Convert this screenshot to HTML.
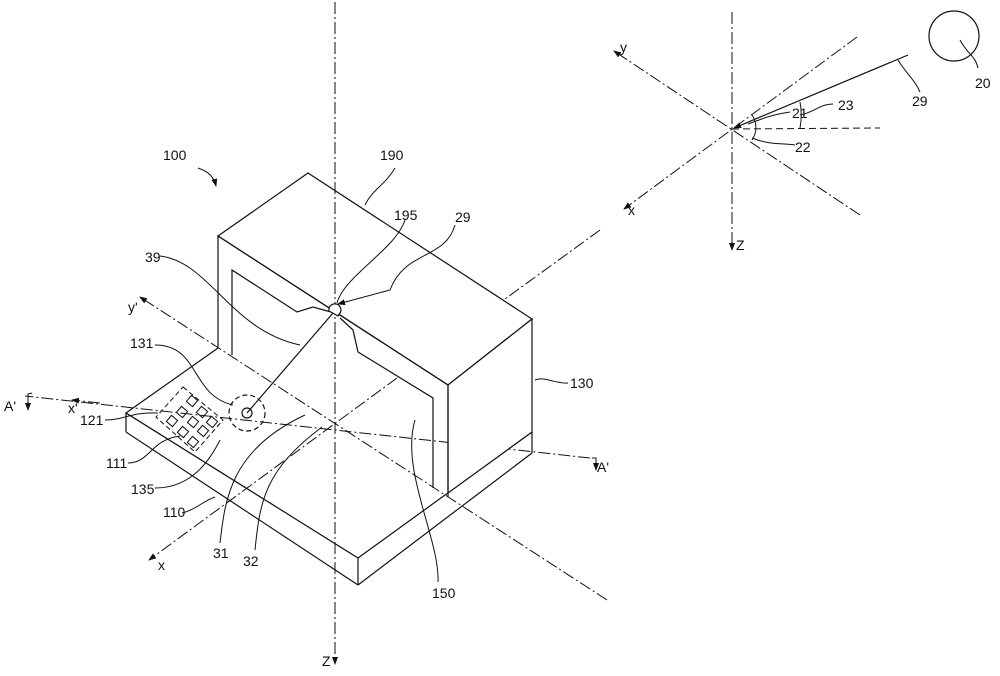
<!DOCTYPE html>
<html><head><meta charset="utf-8"><style>
html,body{margin:0;padding:0;background:#fff}
svg{display:block}
text{font-family:"Liberation Sans",sans-serif;font-size:14px;fill:#111}
</style></head><body>
<svg width="1000" height="676" viewBox="0 0 1000 676" xmlns="http://www.w3.org/2000/svg">
<defs>
<marker id="ah" markerWidth="8" markerHeight="8" refX="7" refY="4" orient="auto" markerUnits="userSpaceOnUse"><path d="M0,1 L8,4 L0,7 Z" fill="#111"/></marker>
</defs>
<g fill="none" stroke="#111" stroke-width="1.2">
<!-- base plate -->
<polyline points="218,348 126,413 358,558 532,432"/>
<line x1="126" y1="413" x2="126" y2="432"/>
<line x1="126" y1="432" x2="358" y2="585"/>
<line x1="358" y1="558" x2="358" y2="585"/>
<line x1="358" y1="585" x2="532" y2="453"/>
<line x1="532" y1="432" x2="532" y2="453"/>
<!-- main axes -->
<g stroke-dasharray="12,3,2,3" stroke-width="1">
<line x1="607" y1="600" x2="140" y2="297" marker-end="url(#ah)"/>
<line x1="397" y1="378" x2="149" y2="560" marker-end="url(#ah)"/>
<line x1="600" y1="230" x2="505" y2="299"/>
<line x1="590" y1="458" x2="25" y2="396"/>
<line x1="100" y1="403" x2="72" y2="400" marker-end="url(#ah)"/>
</g>
<!-- box -->
<polygon points="308,173 218,236 448,385 532,319" fill="#fff"/>
<polygon points="448,385 532,319 532,432 448,493" fill="#fff"/>
<polyline points="218,348 218,236 448,385 448,497"/>
<polyline points="232,355 232,270 297,312 313,307 331,312"/>
<polyline points="340,318 353,330 358,352 433,398 433,488"/>
<line x1="335" y1="2" x2="335" y2="664" stroke-dasharray="12,3,2,3" stroke-width="1" marker-end="url(#ah)"/>
<!-- hole -->
<path d="M329,311 a6,6 0 1 1 11,2 l-2,3 z" fill="#fff"/>
<line x1="333" y1="313" x2="247" y2="413"/>
<!-- circle 131 -->
<circle cx="247" cy="413" r="18" stroke-dasharray="5,3"/>
<circle cx="247" cy="413" r="5"/>
<!-- dashed rect 135 -->
<polygon points="183,387 223,420 195,452 156,417" stroke-dasharray="5,3" stroke-width="1"/>
<g stroke-width="1">
<rect x="188" y="397" width="8" height="8" transform="rotate(40 192 401)"/>
<rect x="178" y="408" width="8" height="8" transform="rotate(40 182 412)"/>
<rect x="198" y="408" width="8" height="8" transform="rotate(40 202 412)"/>
<rect x="168" y="417" width="8" height="8" transform="rotate(40 172 421)"/>
<rect x="189" y="418" width="8" height="8" transform="rotate(40 193 422)"/>
<rect x="208" y="418" width="8" height="8" transform="rotate(40 212 422)"/>
<rect x="179" y="428" width="8" height="8" transform="rotate(40 183 432)"/>
<rect x="199" y="427" width="8" height="8" transform="rotate(40 203 431)"/>
<rect x="189" y="438" width="8" height="8" transform="rotate(40 193 442)"/>
</g>
<!-- leaders -->
<g stroke-width="1">
<path d="M198,168 C210,172 214,178 216,186" marker-end="url(#ah)"/>
<path d="M395,168 C385,185 372,190 365,205"/>
<path d="M405,220 C395,250 345,275 337,303"/>
<path d="M455,225 C445,260 405,250 390,290 L338,304" marker-end="url(#ah)"/>
<path d="M160,256 C210,262 230,330 300,345"/>
<path d="M155,345 C200,345 190,395 233,405"/>
<path d="M105,420 C125,420 130,412 158,413"/>
<path d="M128,463 C150,463 150,440 180,436"/>
<path d="M155,488 C185,488 205,470 220,440"/>
<path d="M182,513 C195,510 205,500 215,497"/>
<path d="M220,543 C225,500 230,450 305,415"/>
<path d="M255,550 C260,500 265,470 322,427"/>
<path d="M438,582 C440,540 400,470 415,420"/>
<path d="M535,380 C545,376 555,384 568,383"/>
</g>
<!-- A' section marks -->
<path d="M32,393 L28,394 L28,410" stroke-width="1" marker-end="url(#ah)"/>
<path d="M592,458 L596,458 L596,470" stroke-width="1" marker-end="url(#ah)"/>

<!-- top-right diagram -->
<g stroke-dasharray="12,3,2,3" stroke-width="1">
<line x1="732" y1="12" x2="732" y2="250" marker-end="url(#ah)"/>
<line x1="860" y1="215" x2="614" y2="51" marker-end="url(#ah)"/>
<line x1="857" y1="37" x2="624" y2="209" marker-end="url(#ah)"/>
</g>
<line x1="732" y1="129" x2="880" y2="128" stroke-dasharray="7,4" stroke-width="1"/>
<line x1="908" y1="55" x2="734" y2="128" marker-end="url(#ah)"/>
<circle cx="954" cy="36" r="25"/>
<g stroke-width="1">
<path d="M800,102 A68,68 0 0 1 800,128"/>
<path d="M752,115 A22,22 0 0 1 752,140"/>
<path d="M960,40 C968,55 975,55 978,68"/>
<path d="M898,60 C905,72 915,80 920,92"/>
<path d="M800,115 C815,112 820,104 833,104"/>
<path d="M748,124 C765,118 770,115 790,112"/>
<path d="M752,138 C770,145 780,143 795,145"/>
</g>
</g>
<text x="163" y="160">100</text>
<text x="380" y="160">190</text>
<text x="394" y="220">195</text>
<text x="455" y="222">29</text>
<text x="145" y="262">39</text>
<text x="130" y="348">131</text>
<text x="80" y="425">121</text>
<text x="106" y="468">111</text>
<text x="131" y="494">135</text>
<text x="163" y="517">110</text>
<text x="213" y="558">31</text>
<text x="243" y="566">32</text>
<text x="432" y="598">150</text>
<text x="570" y="388">130</text>
<text x="4" y="411">A'</text>
<text x="68" y="413">x'</text>
<text x="128" y="312">y'</text>
<text x="158" y="570">x</text>
<text x="597" y="472">A'</text>
<text x="322" y="666">Z</text>
<text x="620" y="52">y</text>
<text x="628" y="215">x</text>
<text x="736" y="250">Z</text>
<text x="792" y="118">21</text>
<text x="838" y="110">23</text>
<text x="795" y="152">22</text>
<text x="912" y="106">29</text>
<text x="975" y="88">20</text>
</svg>
</body></html>
